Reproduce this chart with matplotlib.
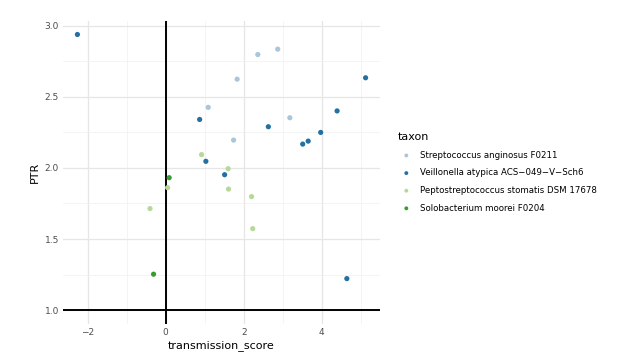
import numpy as np
import matplotlib
matplotlib.use("Agg")
import matplotlib.pyplot as plt
from matplotlib.ticker import MultipleLocator

# datos por taxon (transmission_score, PTR)
taxa = [
    "Streptococcus anginosus F0211",
    "Veillonella atypica ACS\u2212049\u2212V\u2212Sch6",
    "Peptostreptococcus stomatis DSM 17678",
    "Solobacterium moorei F0204",
]
colors = ["#A9C6DA", "#2470A3", "#B6D99A", "#389C33"]

strep_x = [2.36, 2.87, 1.83, 1.09, 3.18, 1.74]
strep_y = [2.796, 2.834, 2.623, 2.425, 2.352, 2.195]

veil_x = [-2.26, 0.87, 1.03, 1.51, 2.63, 3.51, 3.65, 3.97, 4.39, 5.12, 4.64]
veil_y = [2.937, 2.340, 2.046, 1.952, 2.289, 2.167, 2.188, 2.249, 2.400, 2.633, 1.222]

pepto_x = [0.92, 1.60, 0.05, 1.61, 2.20, -0.40, 2.23]
pepto_y = [2.093, 1.994, 1.861, 1.851, 1.798, 1.714, 1.573]

solo_x = [0.09, -0.31]
solo_y = [1.931, 1.253]

series = [(strep_x, strep_y), (veil_x, veil_y), (pepto_x, pepto_y), (solo_x, solo_y)]

fig = plt.figure(figsize=(6.17, 3.57), dpi=100)
ax = fig.add_axes([63 / 617, 1 - 324 / 357, (380 - 63) / 617, (324 - 20.7) / 357])

for (xs, ys), c, lab in zip(series, colors, taxa):
    ax.scatter(xs, ys, s=14, color=c, label=lab, edgecolors="none", zorder=3)

ax.axvline(0, color="black", lw=1.4, zorder=2)
ax.axhline(1, color="black", lw=1.4, zorder=2)

# rango con expansion estilo ggplot
all_x = [v for xs, _ in series for v in xs]
all_y = [v for _, ys in series for v in ys] + [1.0]
xr = max(all_x) - min(all_x)
yr = max(all_y) - min(all_y)
ax.set_xlim(min(all_x) - 0.05 * xr, max(all_x) + 0.05 * xr)
ax.set_ylim(min(all_y) - 0.05 * yr, max(all_y) + 0.05 * yr)

ax.xaxis.set_major_locator(MultipleLocator(2))
ax.xaxis.set_minor_locator(MultipleLocator(1))
ax.yaxis.set_major_locator(MultipleLocator(0.5))
ax.yaxis.set_minor_locator(MultipleLocator(0.25))
ax.yaxis.set_major_formatter(matplotlib.ticker.FormatStrFormatter("%.1f"))
ax.xaxis.set_major_formatter(matplotlib.ticker.FuncFormatter(
    lambda v, p: f"{int(v)}".replace("-", "\u2212")))

ax.grid(which="major", color="#E6E6E6", lw=0.9, zorder=0)
ax.grid(which="minor", color="#F0F0F0", lw=0.5, zorder=0)
for s in ax.spines.values():
    s.set_visible(False)
ax.tick_params(which="both", length=0, labelsize=6.5, labelcolor="#4D4D4D", pad=3)

ax.set_xlabel("transmission_score", fontsize=8, labelpad=2)
ax.set_ylabel("PTR", fontsize=8, labelpad=3)

leg = ax.legend(title="taxon", loc="center left", bbox_to_anchor=(1.045, 0.50),
                frameon=False, fontsize=6.2, title_fontsize=8, markerscale=0.75,
                handletextpad=0.55, labelspacing=1.0, borderaxespad=0)
leg._legend_box.align = "left"

fig.savefig("out.png", dpi=100)
